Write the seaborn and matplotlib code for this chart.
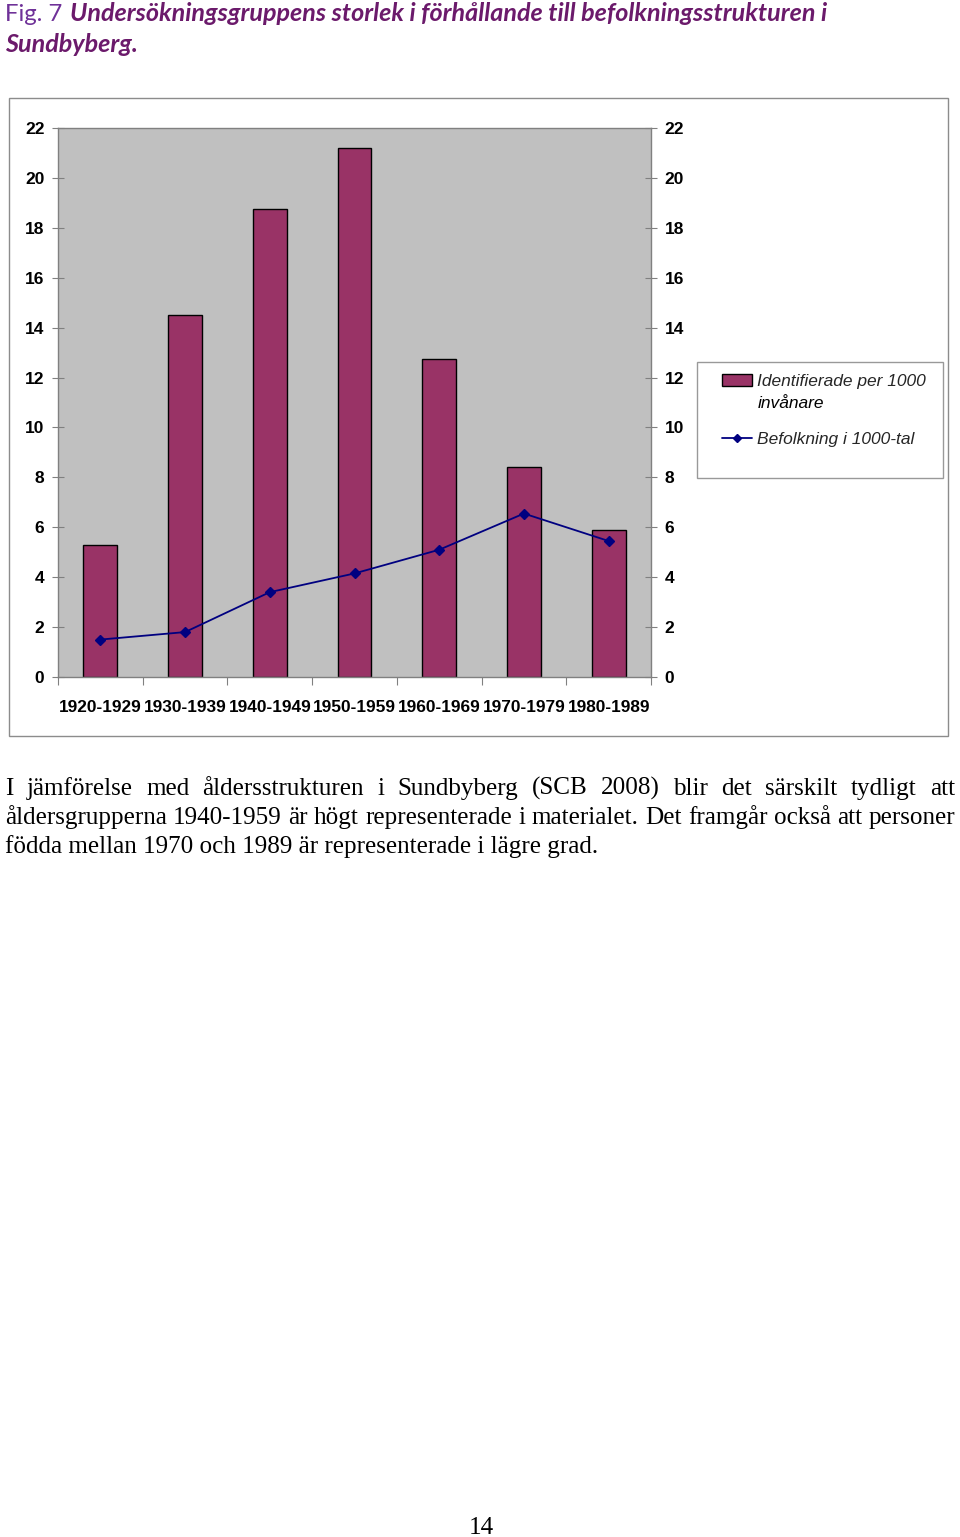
import numpy as np
import pandas as pd
import seaborn as sns
import matplotlib
matplotlib.use("Agg")
import matplotlib.pyplot as plt
from matplotlib.patches import Rectangle, Patch
from matplotlib.lines import Line2D

# ---------------- data ----------------
categories = ['1920-1929', '1930-1939', '1940-1949', '1950-1959',
              '1960-1969', '1970-1979', '1980-1989']
identifierade = [5.3, 14.5, 18.75, 21.2, 12.75, 8.4, 5.9]
befolkning = [1.5, 1.8, 3.4, 4.15, 5.1, 6.55, 5.45]
yticks = list(range(0, 23, 2))
legend_labels = ['Identifierade per 1000', 'Befolkning i 1000-tal']
legend_label_cont = 'invånare'

title_prefix = 'Fig. 7'
title_line1 = 'Undersökningsgruppens storlek i förhållande till befolkningsstrukturen i'
title_line2 = 'Sundbyberg.'
para_lines = [
    'I jämförelse med åldersstrukturen i Sundbyberg (SCB 2008) blir det särskilt tydligt att',
    'åldersgrupperna 1940-1959 är högt representerade i materialet. Det framgår också att personer',
    'födda mellan 1970 och 1989 är representerade i lägre grad.',
]
page_number = '14'

# ---------------- setup ----------------
sns.set_theme(style='white')
plt.rcParams['font.family'] = ['Liberation Sans', 'DejaVu Sans']

W, H = 960, 1537
fig = plt.figure(figsize=(W / 100, H / 100), dpi=100)
fig.patch.set_facecolor('white')


def fx(px):
    return px / W


def fy(py):
    return 1 - py / H


renderer = fig.canvas.get_renderer()


def text_width(s, **kw):
    t = fig.text(0, 0, s, **kw)
    w = t.get_window_extent(renderer).width
    t.remove()
    return w


# chart border
fig.patches.append(Rectangle((fx(9), fy(736)), fx(948) - fx(9), fy(98) - fy(736),
                             transform=fig.transFigure, fill=False,
                             edgecolor='#8c8c8c', linewidth=1.0))

# ---------------- axes ----------------
ax = fig.add_axes([fx(58), fy(677), fx(651) - fx(58), fy(128) - fy(677)])
ax.set_facecolor('#c0c0c0')
df = pd.DataFrame({'kategori': categories, 'ident': identifierade, 'bef': befolkning})

sns.barplot(data=df, x='kategori', y='ident', color='#993366', saturation=1,
            width=0.4, edgecolor='black', linewidth=1.0, ax=ax, zorder=2)
sns.pointplot(data=df, x='kategori', y='bef', color='#000080', markers='D',
              errorbar=None, ax=ax, markersize=5, linewidth=1.3)
for ln in ax.lines:
    ln.set_zorder(3)

ax.set_xlim(-0.5, 6.5)
ax.set_ylim(0, 22)
ax.set_yticks(yticks)
ax.set_xlabel('')
ax.set_ylabel('')
for sp in ax.spines.values():
    sp.set_visible(True)
    sp.set_color('#808080')
    sp.set_linewidth(1.0)

ax.tick_params(axis='y', which='major', direction='inout', length=8.6, width=0.8,
               color='#808080', left=True, right=True, labelleft=True, labelright=True,
               labelsize=12.5, pad=5.5)
ax.set_xticks(np.arange(-0.5, 7.0, 1.0), minor=True)
ax.tick_params(axis='x', which='minor', direction='out', length=5.8, width=0.8,
               color='#808080', bottom=True)
ax.tick_params(axis='x', which='major', length=0, labelsize=12.4, pad=16.5)
for lab in ax.get_xticklabels() + ax.get_yticklabels():
    lab.set_fontweight('bold')
    lab.set_color('black')
for t in ax.yaxis.get_major_ticks():
    t.label2.set_fontweight('bold')
    t.label2.set_color('black')

# legend frame + legend
fig.patches.append(Rectangle((fx(697), fy(478)), fx(943) - fx(697), fy(362) - fy(478),
                             transform=fig.transFigure, facecolor='white',
                             edgecolor='#999999', linewidth=1.0, zorder=1))
handles = [Patch(facecolor='#993366', edgecolor='black', linewidth=1.0),
           Line2D([0], [0], color='#000080', marker='D', markersize=4.5, linewidth=1.3)]
leg_prop = {'size': 12.5, 'style': 'italic', 'family': 'Liberation Sans'}
leg = fig.legend(handles, legend_labels, loc='upper left',
                 bbox_to_anchor=(fx(708), fy(360)), bbox_transform=fig.transFigure,
                 frameon=False, prop=leg_prop,
                 handlelength=1.75, handletextpad=0.3, labelspacing=2.45, borderpad=0.3)
fig.canvas.draw()
t0 = leg.get_texts()[0]
bb = t0.get_window_extent(renderer)
fig.text(bb.x0 / W, (bb.y0 - 22) / H, legend_label_cont, ha='left', va='bottom',
         fontsize=12.5, style='italic', family='Liberation Sans', color='black')

# ---------------- title ----------------
title_color = '#6b1a6b'
tkw = dict(family=['Lato', 'DejaVu Sans'], style='italic', weight='bold', color=title_color)
w16 = text_width(title_line1, fontsize=16, **tkw)
tsize = 16 * (828 - 70) / w16
fig.text(fx(5), fy(21), title_prefix, fontsize=tsize * 0.95, family=['Lato', 'DejaVu Sans'],
         color='#6f3198', ha='left', va='baseline')
fig.text(fx(70), fy(21), title_line1, fontsize=tsize, ha='left', va='baseline', **tkw)
fig.text(fx(5), fy(52), title_line2, fontsize=tsize, ha='left', va='baseline', **tkw)

# ---------------- paragraph ----------------
pkw = dict(family=['Liberation Serif', 'DejaVu Serif'], color='black')
w16 = text_width(para_lines[2], fontsize=16, **pkw)
psize = 16 * (598 - 5) / w16


def justify(line, ybase, x0, x1):
    words = line.split(' ')
    widths = [text_width(w, fontsize=psize, **pkw) for w in words]
    gap = (x1 - x0 - sum(widths)) / (len(words) - 1)
    x = x0
    for wd_text, wd in zip(words, widths):
        fig.text(fx(x), fy(ybase), wd_text, fontsize=psize, ha='left', va='baseline', **pkw)
        x += wd + gap


justify(para_lines[0], 795, 5, 955)
justify(para_lines[1], 824, 5, 955)
fig.text(fx(5), fy(853), para_lines[2], fontsize=psize, ha='left', va='baseline', **pkw)

fig.text(fx(481), fy(1534), page_number, fontsize=psize, ha='center', va='baseline', **pkw)

fig.savefig('out.png', dpi=100, facecolor='white')
